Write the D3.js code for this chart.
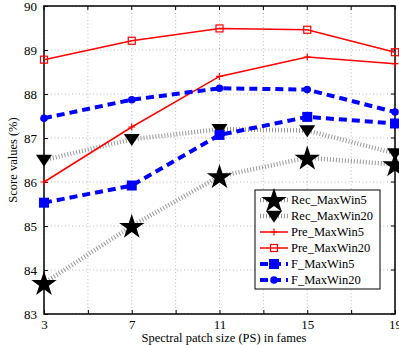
<!DOCTYPE html>
<html><head><meta charset="utf-8">
<script src="https://cdn.jsdelivr.net/npm/d3@7"></script>
<style>body{margin:0;background:#fff}svg{display:block}text{font-family:"Liberation Serif","Times New Roman",serif}</style>
</head><body>
<script>
const xValues = [3, 7, 11, 15, 19];
const xTickLabels = [3, 7, 11, 15, 19];
const xGrid = [3, 5, 7, 9, 11, 13, 15, 17, 19];
const yTicks = [83, 84, 85, 86, 87, 88, 89, 90];
const seriesNames = ["Rec_MaxWin5", "Rec_MaxWin20", "Pre_MaxWin5", "Pre_MaxWin20", "F_MaxWin5", "F_MaxWin20"];
const recMaxWin5 = [83.7, 85.0, 86.13, 86.55, 86.4];
const recMaxWin20 = [86.5, 86.97, 87.2, 87.17, 86.65];
const preMaxWin5 = [86.0, 87.25, 88.4, 88.84, 88.69];
const preMaxWin20 = [88.78, 89.21, 89.49, 89.46, 88.95];
const fMaxWin5 = [85.53, 85.92, 87.07, 87.48, 87.33];
const fMaxWin20 = [87.45, 87.87, 88.13, 88.1, 87.59];

const W = 399, H = 345;
const m = {left: 44, right: 395, top: 6, bottom: 314};
const x = d3.scaleLinear().domain([3, 19]).range([m.left, m.right]);
const y = d3.scaleLinear().domain([83, 90]).range([m.bottom, m.top]);

const svg = d3.select("body").append("svg").attr("width", W).attr("height", H);

// grid
svg.append("g").selectAll("line").data(xGrid).join("line")
  .attr("x1", d => x(d)).attr("x2", d => x(d)).attr("y1", m.top).attr("y2", m.bottom)
  .attr("stroke", "#aaa").attr("stroke-width", 0.8).attr("stroke-dasharray", "1,2.5");
svg.append("g").selectAll("line").data(yTicks).join("line")
  .attr("x1", m.left).attr("x2", m.right).attr("y1", d => y(d)).attr("y2", d => y(d))
  .attr("stroke", "#aaa").attr("stroke-width", 0.8).attr("stroke-dasharray", "1,2.5");

// axes (ticks inward)
const xAxis = d3.axisBottom(x).tickValues(xGrid).tickSize(-4)
  .tickFormat(d => xTickLabels.includes(d) ? d : "").tickPadding(8);
const gx = svg.append("g").attr("transform", `translate(0,${m.bottom})`).call(xAxis);
const yAxis = d3.axisLeft(y).tickValues(yTicks).tickSize(-4).tickFormat(d3.format("d")).tickPadding(7);
const gy = svg.append("g").attr("transform", `translate(${m.left},0)`).call(yAxis);
[gx, gy].forEach(g => {
  g.select(".domain").remove();
  g.selectAll("line").attr("stroke", "#000").attr("stroke-width", 1);
  g.selectAll("text").attr("font-size", 13).attr("fill", "#000")
    .style("font-family", "'Liberation Serif', serif");
});
gx.selectAll("text").attr("dy", "0.55em");
// top & right ticks
svg.append("g").selectAll("line").data(xGrid).join("line")
  .attr("x1", d => x(d)).attr("x2", d => x(d)).attr("y1", m.top).attr("y2", m.top + 4).attr("stroke", "#000");
svg.append("g").selectAll("line").data(yTicks).join("line")
  .attr("x1", m.right - 4).attr("x2", m.right).attr("y1", d => y(d)).attr("y2", d => y(d)).attr("stroke", "#000");

svg.append("rect").attr("x", m.left).attr("y", m.top)
  .attr("width", m.right - m.left).attr("height", m.bottom - m.top)
  .attr("fill", "none").attr("stroke", "#000").attr("stroke-width", 1.5);

// axis labels
svg.append("text").attr("x", 224).attr("y", 342)
  .attr("text-anchor", "middle").attr("font-size", 12.5).text("Spectral patch size (PS) in fames");
svg.append("text").attr("transform", `translate(17,${(m.top + m.bottom) / 2}) rotate(-90)`)
  .attr("text-anchor", "middle").attr("font-size", 12.5).text("Score values (%)");

const styles = [
  {data: recMaxWin5, color: "#999", width: 4.5, dash: "1,2", marker: "star", mcolor: "#000"},
  {data: recMaxWin20, color: "#999", width: 4.5, dash: "1,2", marker: "tri", mcolor: "#000"},
  {data: preMaxWin5, color: "#f00", width: 1.5, dash: null, marker: "plus", mcolor: "#f00"},
  {data: preMaxWin20, color: "#f00", width: 1.5, dash: null, marker: "sq-open", mcolor: "#f00"},
  {data: fMaxWin5, color: "#00f", width: 4, dash: "8,5", marker: "sq", mcolor: "#00f"},
  {data: fMaxWin20, color: "#00f", width: 4, dash: "8,5", marker: "circ", mcolor: "#00f"},
];

function drawMarker(g, type, cx, cy, color, scale = 1) {
  if (type === "star") {
    g.append("path").attr("d", d3.symbol(d3.symbolStar, 200 * scale)())
      .attr("transform", `translate(${cx},${cy + 1}) `).attr("fill", color);
  } else if (type === "tri") {
    const s = 8 * scale;
    g.append("path").attr("d", `M${cx - s},${cy - s * 0.65}L${cx + s},${cy - s * 0.65}L${cx},${cy + s * 0.85}Z`)
      .attr("fill", color);
  } else if (type === "plus") {
    g.append("path").attr("d", `M${cx - 3.5},${cy}H${cx + 3.5}M${cx},${cy - 3.5}V${cy + 3.5}`)
      .attr("stroke", color).attr("stroke-width", 1.2);
  } else if (type === "sq-open") {
    g.append("rect").attr("x", cx - 3.5).attr("y", cy - 3.5).attr("width", 7).attr("height", 7)
      .attr("fill", "none").attr("stroke", color).attr("stroke-width", 1.2);
  } else if (type === "sq") {
    const s = 5 * scale;
    g.append("rect").attr("x", cx - s).attr("y", cy - s).attr("width", 2 * s).attr("height", 2 * s).attr("fill", color);
  } else if (type === "circ") {
    g.append("circle").attr("cx", cx).attr("cy", cy).attr("r", 3.8 * scale).attr("fill", color);
  }
}

const line = d3.line().x((d, i) => x(xValues[i])).y(d => y(d));
const plot = svg.append("g");
styles.forEach(s => {
  plot.append("path").datum(s.data).attr("d", line).attr("fill", "none")
    .attr("stroke", s.color).attr("stroke-width", s.width)
    .attr("stroke-dasharray", s.dash);
});
styles.forEach(s => {
  s.data.forEach((v, i) => drawMarker(plot, s.marker, x(xValues[i]), y(v), s.mcolor));
});

// legend
const lg = svg.append("g");
const lx = 255, ly = 190, lw = 125, lh = 99;
lg.append("rect").attr("x", lx).attr("y", ly).attr("width", lw).attr("height", lh)
  .attr("fill", "#fff").attr("stroke", "#000").attr("stroke-width", 1);
seriesNames.forEach((name, i) => {
  const s = styles[i];
  const cy = ly + 10 + i * 16;
  lg.append("line").attr("x1", lx + 5).attr("x2", lx + 33).attr("y1", cy).attr("y2", cy)
    .attr("stroke", s.color).attr("stroke-width", s.width).attr("stroke-dasharray", s.dash);
  drawMarker(lg, s.marker, lx + 19, cy, s.mcolor);
  lg.append("text").attr("x", lx + 36).attr("y", cy).attr("dy", "0.35em")
    .attr("font-size", 12.5).text(name);
});
</script>
</body></html>
